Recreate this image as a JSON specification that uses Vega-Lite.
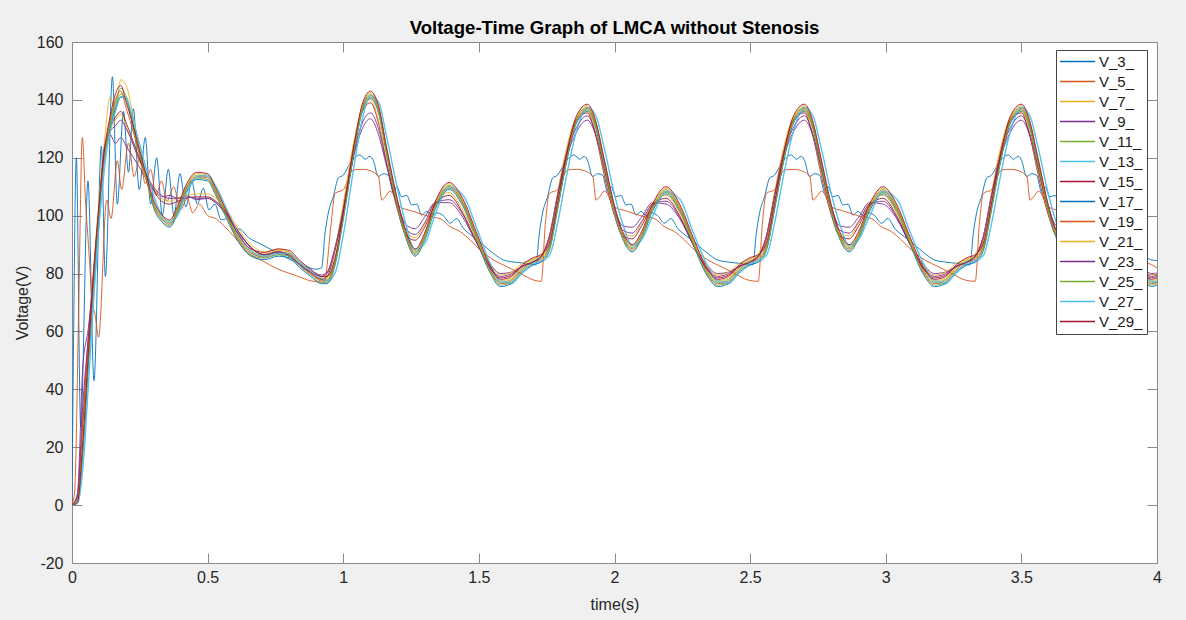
{
"$schema": "https://vega.github.io/schema/vega-lite/v6.json",
"width": 1085, "height": 521,
"autosize": {"type": "none"},
"padding": {"left": 72, "top": 42, "right": 29, "bottom": 57},
"background": "#f0f0f0",
"config": {"view": {"stroke": "#8a8a8a", "strokeWidth": 1, "fill": "#ffffff"}},
"title": {"text": "Voltage-Time Graph of LMCA without Stenosis", "font": "Liberation Sans", "fontSize": 18.6, "fontWeight": "bold", "color": "#000000", "offset": -4, "anchor": "middle"},
"data": {"values": [
{"t":0,"V_3_":0,"V_5_":0,"V_7_":0,"V_9_":0,"V_11_":0,"V_13_":0,"V_15_":0,"V_17_":0,"V_19_":0,"V_21_":0,"V_23_":0,"V_25_":0,"V_27_":0,"V_29_":0},
{"t":0.02,"V_7_":2,"V_9_":4,"V_11_":1,"V_13_":0.5,"V_15_":3,"V_17_":1,"V_19_":3,"V_21_":2,"V_23_":3,"V_25_":1,"V_27_":0.5,"V_29_":1},
{"t":0.04,"V_7_":25,"V_9_":48,"V_11_":20,"V_13_":12,"V_15_":28,"V_17_":18,"V_19_":30,"V_21_":24,"V_23_":35,"V_25_":20,"V_27_":14,"V_29_":22},
{"t":0.06,"V_7_":55,"V_9_":61,"V_11_":50,"V_13_":40,"V_15_":55,"V_17_":48,"V_19_":58,"V_21_":52,"V_23_":58,"V_25_":50,"V_27_":42,"V_29_":52},
{"t":0.08,"V_7_":82,"V_9_":79,"V_11_":78,"V_13_":70,"V_15_":80,"V_17_":76,"V_19_":82,"V_21_":78,"V_23_":80,"V_25_":78,"V_27_":72,"V_29_":80},
{"t":0.1,"V_7_":106,"V_9_":103,"V_11_":102,"V_13_":96,"V_15_":103,"V_17_":101,"V_19_":104,"V_21_":102,"V_23_":102,"V_25_":102,"V_27_":97,"V_29_":104},
{"t":0.12,"V_7_":126,"V_9_":124,"V_11_":121,"V_13_":116,"V_15_":121,"V_17_":120,"V_19_":122,"V_21_":120,"V_23_":122,"V_25_":121,"V_27_":117,"V_29_":123},
{"t":0.14,"V_7_":141,"V_9_":128,"V_11_":132,"V_13_":129,"V_15_":130,"V_17_":130,"V_19_":133,"V_21_":129,"V_23_":129,"V_25_":131,"V_27_":129,"V_29_":134},
{"t":0.16,"V_7_":136,"V_9_":125,"V_11_":139,"V_13_":136,"V_15_":134,"V_17_":137,"V_19_":140,"V_21_":133,"V_23_":131,"V_25_":138,"V_27_":136,"V_29_":142},
{"t":0.18,"V_7_":147,"V_9_":127,"V_11_":144,"V_13_":141,"V_15_":136,"V_17_":141,"V_19_":143,"V_21_":135,"V_23_":133,"V_25_":142,"V_27_":141,"V_29_":145},
{"t":0.2,"V_7_":145,"V_9_":124,"V_11_":141,"V_13_":141,"V_15_":132,"V_17_":140,"V_19_":137,"V_21_":131,"V_23_":130,"V_25_":140,"V_27_":140,"V_29_":139},
{"t":0.22,"V_7_":137,"V_9_":121,"V_11_":134,"V_13_":135,"V_15_":127,"V_17_":133,"V_19_":131,"V_21_":126,"V_23_":126,"V_25_":133,"V_27_":135,"V_29_":133},
{"t":0.24,"V_7_":127,"V_9_":118,"V_11_":125,"V_13_":128,"V_15_":122,"V_17_":125,"V_19_":124,"V_21_":121,"V_23_":121,"V_25_":125,"V_27_":128,"V_29_":126},
{"t":0.26,"V_7_":119,"V_9_":115,"V_11_":118,"V_13_":121,"V_15_":117,"V_17_":118,"V_19_":117,"V_21_":116,"V_23_":117,"V_25_":118,"V_27_":121,"V_29_":119},
{"t":0.28,"V_7_":111,"V_9_":111.5,"V_11_":111,"V_13_":114,"V_15_":113,"V_17_":111,"V_19_":110,"V_21_":112,"V_23_":113,"V_25_":111,"V_27_":114,"V_29_":112},
{"t":0.3,"V_7_":105,"V_9_":109,"V_11_":104.5,"V_13_":107,"V_15_":109,"V_17_":103,"V_19_":104,"V_21_":110,"V_23_":110,"V_25_":103.5,"V_27_":107.5,"V_29_":105.5},
{"t":0.33,"V_7_":100,"V_9_":106.5,"V_11_":99.5,"V_13_":100,"V_15_":105,"V_17_":98,"V_19_":99,"V_21_":106,"V_23_":107,"V_25_":98.5,"V_27_":100.5,"V_29_":100.5},
{"t":0.36,"V_7_":98,"V_9_":107,"V_11_":97.5,"V_13_":97.5,"V_15_":104,"V_17_":96,"V_19_":97,"V_21_":105,"V_23_":106,"V_25_":96.5,"V_27_":98,"V_29_":98.5},
{"t":0.39,"V_7_":103,"V_9_":106,"V_11_":102.5,"V_13_":100,"V_15_":105,"V_17_":101,"V_19_":102,"V_21_":106,"V_23_":106,"V_25_":101.5,"V_27_":100.5,"V_29_":103.5},
{"t":0.42,"V_7_":110,"V_9_":107,"V_11_":109.5,"V_13_":107,"V_15_":106,"V_17_":108,"V_19_":109,"V_21_":107,"V_23_":106.5,"V_25_":108.5,"V_27_":107.5,"V_29_":110.5},
{"t":0.46,"V_7_":114.5,"V_9_":105.5,"V_11_":114,"V_13_":113,"V_15_":106.5,"V_17_":112.5,"V_19_":113.5,"V_21_":107.5,"V_23_":106,"V_25_":113,"V_27_":113.5,"V_29_":115},
{"t":0.5,"V_7_":114,"V_9_":106,"V_11_":113.5,"V_13_":113.5,"V_15_":106.5,"V_17_":112,"V_19_":113,"V_21_":107.5,"V_23_":106,"V_25_":112.5,"V_27_":114,"V_29_":114.5},
{"t":0.53,"V_7_":109,"V_9_":104.5,"V_11_":108.5,"V_13_":110,"V_15_":105,"V_17_":107,"V_19_":108,"V_21_":106,"V_23_":104.5,"V_25_":107.5,"V_27_":110.5,"V_29_":109.5},
{"t":0.57,"V_7_":101,"V_9_":100,"V_11_":100.5,"V_13_":102,"V_15_":101,"V_17_":99,"V_19_":100,"V_21_":102,"V_23_":100.5,"V_25_":99.5,"V_27_":102.5,"V_29_":101.5},
{"t":0.61,"V_7_":93.5,"V_9_":94.5,"V_11_":93,"V_13_":94,"V_15_":95,"V_17_":91.5,"V_19_":92.5,"V_21_":96,"V_23_":95,"V_25_":92,"V_27_":94.5,"V_29_":94},
{"t":0.66,"V_7_":88,"V_9_":89,"V_11_":87.5,"V_13_":87.5,"V_15_":89,"V_17_":86,"V_19_":87,"V_21_":90,"V_23_":89,"V_25_":86.5,"V_27_":88,"V_29_":88.5},
{"t":0.71,"V_7_":86.8,"V_9_":86.5,"V_11_":86.3,"V_13_":85.5,"V_15_":86.5,"V_17_":84.8,"V_19_":85.8,"V_21_":87.5,"V_23_":86.5,"V_25_":85.3,"V_27_":86,"V_29_":87.3},
{"t":0.76,"V_7_":88,"V_9_":87.5,"V_11_":87.5,"V_13_":86.5,"V_15_":87.5,"V_17_":86,"V_19_":87,"V_21_":88.5,"V_23_":87.5,"V_25_":86.5,"V_27_":87,"V_29_":88.5},
{"t":0.8,"V_7_":87.5,"V_9_":86,"V_11_":87,"V_13_":86.5,"V_15_":86.5,"V_17_":85.5,"V_19_":86.5,"V_21_":87.5,"V_23_":86,"V_25_":86,"V_27_":87,"V_29_":88},
{"t":0.84,"V_7_":84,"V_9_":83,"V_11_":83.5,"V_13_":83.5,"V_15_":83,"V_17_":82,"V_19_":83,"V_21_":84,"V_23_":83,"V_25_":82.5,"V_27_":84,"V_29_":84.5},
{"t":0.88,"V_7_":81,"V_9_":81,"V_11_":80.5,"V_13_":80.5,"V_15_":80,"V_17_":79,"V_19_":80,"V_21_":81,"V_23_":80.5,"V_25_":79.5,"V_27_":81,"V_29_":81.5},
{"t":0.92,"V_7_":78.5,"V_9_":79.5,"V_11_":78,"V_13_":78,"V_15_":78,"V_17_":76.5,"V_19_":77.5,"V_21_":79,"V_23_":79,"V_25_":77,"V_27_":78.5,"V_29_":79},
{"t":0.94,"V_7_":78.5,"V_9_":80.5,"V_11_":78,"V_13_":77,"V_15_":79,"V_17_":76.5,"V_19_":77.5,"V_21_":80,"V_23_":80,"V_25_":77,"V_27_":77.5,"V_29_":79},
{"t":0.97,"V_7_":85,"V_9_":89,"V_11_":84.5,"V_13_":80,"V_15_":88,"V_17_":83,"V_19_":84,"V_21_":89,"V_23_":89,"V_25_":83.5,"V_27_":80.5,"V_29_":85.5},
{"t":1.0,"V_7_":100.6,"V_9_":101,"V_11_":100.1,"V_13_":93,"V_15_":103,"V_17_":98.6,"V_19_":99.6,"V_21_":104,"V_23_":102,"V_25_":99.1,"V_27_":93.5,"V_29_":101.1},
{"t":1.04,"V_7_":124,"V_9_":121,"V_11_":123.5,"V_13_":117,"V_15_":125,"V_17_":122,"V_19_":123,"V_21_":126,"V_23_":122,"V_25_":122.5,"V_27_":117.5,"V_29_":124.5},
{"t":1.07,"V_7_":138,"V_9_":130,"V_11_":137.5,"V_13_":133,"V_15_":136,"V_17_":136,"V_19_":137,"V_21_":137,"V_23_":132,"V_25_":136.5,"V_27_":133.5,"V_29_":138.5},
{"t":1.1,"V_7_":142.5,"V_9_":133.5,"V_11_":142,"V_13_":141,"V_15_":139,"V_17_":140.5,"V_19_":141.5,"V_21_":140,"V_23_":135.5,"V_25_":141,"V_27_":141.5,"V_29_":143},
{"t":1.13,"V_7_":137.5,"V_9_":128,"V_11_":137,"V_13_":139,"V_15_":132,"V_17_":135.5,"V_19_":136.5,"V_21_":133,"V_23_":130,"V_25_":136,"V_27_":139.5,"V_29_":138},
{"t":1.16,"V_7_":123,"V_9_":117,"V_11_":122.5,"V_13_":127,"V_15_":118,"V_17_":121,"V_19_":122,"V_21_":119,"V_23_":118,"V_25_":121.5,"V_27_":127.5,"V_29_":123.5},
{"t":1.2,"V_7_":105,"V_9_":104,"V_11_":104.5,"V_13_":109,"V_15_":102,"V_17_":103,"V_19_":104,"V_21_":103,"V_23_":103,"V_25_":103.5,"V_27_":109.5,"V_29_":105.5},
{"t":1.23,"V_7_":94.5,"V_9_":97,"V_11_":94,"V_13_":97,"V_15_":93.5,"V_17_":92.5,"V_19_":93.5,"V_21_":94.5,"V_23_":95.5,"V_25_":93,"V_27_":97.5,"V_29_":95},
{"t":1.265,"V_7_":88,"V_9_":95.5,"V_11_":87.5,"V_13_":88,"V_15_":91.5,"V_17_":86,"V_19_":87,"V_21_":92.5,"V_23_":93.5,"V_25_":86.5,"V_27_":88.5,"V_29_":88.5},
{"t":1.3,"V_7_":93.5,"V_9_":99.5,"V_11_":93,"V_13_":90,"V_15_":96,"V_17_":91.5,"V_19_":92.5,"V_21_":97,"V_23_":97.5,"V_25_":92,"V_27_":90.5,"V_29_":94},
{"t":1.34,"V_7_":104.5,"V_9_":104.5,"V_11_":104,"V_13_":100.5,"V_15_":104,"V_17_":102.5,"V_19_":103.5,"V_21_":105,"V_23_":104.5,"V_25_":103,"V_27_":101,"V_29_":105},
{"t":1.39,"V_7_":111,"V_9_":104.5,"V_11_":110.5,"V_13_":109.5,"V_15_":107,"V_17_":109,"V_19_":110,"V_21_":108,"V_23_":105.5,"V_25_":109.5,"V_27_":110,"V_29_":111.5},
{"t":1.44,"V_7_":105.5,"V_9_":99.5,"V_11_":105,"V_13_":107,"V_15_":101,"V_17_":103.5,"V_19_":104.5,"V_21_":102,"V_23_":100.5,"V_25_":104,"V_27_":107.5,"V_29_":106},
{"t":1.49,"V_7_":94,"V_9_":91,"V_11_":93.5,"V_13_":96,"V_15_":91,"V_17_":92,"V_19_":93,"V_21_":92,"V_23_":91,"V_25_":92.5,"V_27_":96.5,"V_29_":94.5},
{"t":1.54,"V_7_":82.5,"V_9_":83.5,"V_11_":82,"V_13_":83.5,"V_15_":82,"V_17_":80.5,"V_19_":81.5,"V_21_":83,"V_23_":82.5,"V_25_":81,"V_27_":84,"V_29_":83},
{"t":1.58,"V_7_":77.5,"V_9_":80,"V_11_":77,"V_13_":77,"V_15_":78.5,"V_17_":75.5,"V_19_":76.5,"V_21_":79.5,"V_23_":79,"V_25_":76,"V_27_":77.5,"V_29_":78},
{"t":1.62,"V_7_":78.5,"V_9_":80.5,"V_11_":78,"V_13_":76.5,"V_15_":79.5,"V_17_":76.5,"V_19_":77.5,"V_21_":80.5,"V_23_":80,"V_25_":77,"V_27_":77,"V_29_":79},
{"t":1.66,"V_7_":82.5,"V_9_":82.5,"V_11_":82,"V_13_":80,"V_15_":82.5,"V_17_":80.5,"V_19_":81.5,"V_21_":83.5,"V_23_":82.5,"V_25_":81,"V_27_":80.5,"V_29_":83},
{"t":1.7,"V_7_":85,"V_9_":84,"V_11_":84.5,"V_13_":83,"V_15_":84,"V_17_":83,"V_19_":84,"V_21_":85,"V_23_":84,"V_25_":83.5,"V_27_":83.5,"V_29_":85.5},
{"t":1.73,"V_7_":86,"V_9_":86,"V_11_":85.5,"V_13_":84,"V_15_":86,"V_17_":84,"V_19_":85,"V_21_":87,"V_23_":86,"V_25_":84.5,"V_27_":84.5,"V_29_":86.5},
{"t":1.76,"V_7_":90,"V_9_":93,"V_11_":89.5,"V_13_":86,"V_15_":92,"V_17_":88,"V_19_":89,"V_21_":93,"V_23_":93,"V_25_":88.5,"V_27_":86.5,"V_29_":90.5},
{"t":1.79,"V_7_":104,"V_9_":107,"V_11_":103.5,"V_13_":97,"V_15_":107,"V_17_":102,"V_19_":103,"V_21_":108,"V_23_":107,"V_25_":102.5,"V_27_":97.5,"V_29_":104.5},
{"t":1.82,"V_7_":119,"V_9_":119,"V_11_":118.5,"V_13_":112,"V_15_":121,"V_17_":117,"V_19_":118,"V_21_":122,"V_23_":120,"V_25_":117.5,"V_27_":112.5,"V_29_":119.5},
{"t":1.86,"V_7_":134,"V_9_":129,"V_11_":133.5,"V_13_":129,"V_15_":133,"V_17_":132,"V_19_":133,"V_21_":134,"V_23_":130.5,"V_25_":132.5,"V_27_":129.5,"V_29_":134.5},
{"t":1.9,"V_7_":138,"V_9_":133,"V_11_":137.5,"V_13_":137,"V_15_":135.5,"V_17_":136,"V_19_":137,"V_21_":136.5,"V_23_":134.5,"V_25_":136.5,"V_27_":137.5,"V_29_":138.5},
{"t":1.93,"V_7_":132.5,"V_9_":128,"V_11_":132,"V_13_":134.5,"V_15_":128,"V_17_":130.5,"V_19_":131.5,"V_21_":129,"V_23_":128.5,"V_25_":131,"V_27_":135,"V_29_":133},
{"t":1.96,"V_7_":120,"V_9_":117,"V_11_":119.5,"V_13_":124,"V_15_":115,"V_17_":118,"V_19_":119,"V_21_":116,"V_23_":117,"V_25_":118.5,"V_27_":124.5,"V_29_":120.5},
{"t":2.0,"V_7_":103,"V_9_":102.5,"V_11_":102.5,"V_13_":107,"V_15_":100,"V_17_":101,"V_19_":102,"V_21_":101,"V_23_":101.5,"V_25_":101.5,"V_27_":107.5,"V_29_":103.5},
{"t":2.03,"V_7_":94,"V_9_":96.5,"V_11_":93.5,"V_13_":97,"V_15_":93,"V_17_":92,"V_19_":93,"V_21_":94,"V_23_":95,"V_25_":92.5,"V_27_":97.5,"V_29_":94.5},
{"t":2.065,"V_7_":89.5,"V_9_":96,"V_11_":89,"V_13_":89.5,"V_15_":92,"V_17_":87.5,"V_19_":88.5,"V_21_":93,"V_23_":94,"V_25_":88,"V_27_":90,"V_29_":90},
{"t":2.1,"V_7_":94,"V_9_":99.5,"V_11_":93.5,"V_13_":91.5,"V_15_":96.5,"V_17_":92,"V_19_":93,"V_21_":97.5,"V_23_":98,"V_25_":92.5,"V_27_":92,"V_29_":94.5},
{"t":2.14,"V_7_":103.5,"V_9_":104.5,"V_11_":103,"V_13_":99.5,"V_15_":103.5,"V_17_":101.5,"V_19_":102.5,"V_21_":104.5,"V_23_":104,"V_25_":102,"V_27_":100,"V_29_":104},
{"t":2.19,"V_7_":109.5,"V_9_":104,"V_11_":109,"V_13_":108,"V_15_":106,"V_17_":107.5,"V_19_":108.5,"V_21_":107,"V_23_":105,"V_25_":108,"V_27_":108.5,"V_29_":110},
{"t":2.24,"V_7_":103.5,"V_9_":99,"V_11_":103,"V_13_":105.5,"V_15_":100,"V_17_":101.5,"V_19_":102.5,"V_21_":101,"V_23_":99.5,"V_25_":102,"V_27_":106,"V_29_":104},
{"t":2.29,"V_7_":92,"V_9_":90,"V_11_":91.5,"V_13_":94,"V_15_":90,"V_17_":90,"V_19_":91,"V_21_":91,"V_23_":90,"V_25_":90.5,"V_27_":94.5,"V_29_":92.5},
{"t":2.34,"V_7_":81.5,"V_9_":83,"V_11_":81,"V_13_":83,"V_15_":81.5,"V_17_":79.5,"V_19_":80.5,"V_21_":82.5,"V_23_":82,"V_25_":80,"V_27_":83.5,"V_29_":82},
{"t":2.38,"V_7_":77.5,"V_9_":80,"V_11_":77,"V_13_":77,"V_15_":78.5,"V_17_":75.5,"V_19_":76.5,"V_21_":79.5,"V_23_":79,"V_25_":76,"V_27_":77.5,"V_29_":78},
{"t":2.42,"V_7_":78.5,"V_9_":80.5,"V_11_":78,"V_13_":76.5,"V_15_":79.5,"V_17_":76.5,"V_19_":77.5,"V_21_":80.5,"V_23_":80,"V_25_":77,"V_27_":77,"V_29_":79},
{"t":2.46,"V_7_":82.5,"V_9_":82.5,"V_11_":82,"V_13_":80,"V_15_":82.5,"V_17_":80.5,"V_19_":81.5,"V_21_":83.5,"V_23_":82.5,"V_25_":81,"V_27_":80.5,"V_29_":83},
{"t":2.5,"V_7_":85,"V_9_":84,"V_11_":84.5,"V_13_":83,"V_15_":84,"V_17_":83,"V_19_":84,"V_21_":85,"V_23_":84,"V_25_":83.5,"V_27_":83.5,"V_29_":85.5},
{"t":2.53,"V_7_":86,"V_9_":86,"V_11_":85.5,"V_13_":84,"V_15_":86,"V_17_":84,"V_19_":85,"V_21_":87,"V_23_":86,"V_25_":84.5,"V_27_":84.5,"V_29_":86.5},
{"t":2.56,"V_7_":90,"V_9_":93,"V_11_":89.5,"V_13_":86,"V_15_":92,"V_17_":88,"V_19_":89,"V_21_":93,"V_23_":93,"V_25_":88.5,"V_27_":86.5,"V_29_":90.5},
{"t":2.59,"V_7_":104,"V_9_":107,"V_11_":103.5,"V_13_":97,"V_15_":107,"V_17_":102,"V_19_":103,"V_21_":108,"V_23_":107,"V_25_":102.5,"V_27_":97.5,"V_29_":104.5},
{"t":2.62,"V_7_":119,"V_9_":119,"V_11_":118.5,"V_13_":112,"V_15_":121,"V_17_":117,"V_19_":118,"V_21_":122,"V_23_":120,"V_25_":117.5,"V_27_":112.5,"V_29_":119.5},
{"t":2.66,"V_7_":134,"V_9_":129,"V_11_":133.5,"V_13_":129,"V_15_":133,"V_17_":132,"V_19_":133,"V_21_":134,"V_23_":130.5,"V_25_":132.5,"V_27_":129.5,"V_29_":134.5},
{"t":2.7,"V_7_":138,"V_9_":133,"V_11_":137.5,"V_13_":137,"V_15_":135.5,"V_17_":136,"V_19_":137,"V_21_":136.5,"V_23_":134.5,"V_25_":136.5,"V_27_":137.5,"V_29_":138.5},
{"t":2.73,"V_7_":132.5,"V_9_":128,"V_11_":132,"V_13_":134.5,"V_15_":128,"V_17_":130.5,"V_19_":131.5,"V_21_":129,"V_23_":128.5,"V_25_":131,"V_27_":135,"V_29_":133},
{"t":2.76,"V_7_":120,"V_9_":117,"V_11_":119.5,"V_13_":124,"V_15_":115,"V_17_":118,"V_19_":119,"V_21_":116,"V_23_":117,"V_25_":118.5,"V_27_":124.5,"V_29_":120.5},
{"t":2.8,"V_7_":103,"V_9_":102.5,"V_11_":102.5,"V_13_":107,"V_15_":100,"V_17_":101,"V_19_":102,"V_21_":101,"V_23_":101.5,"V_25_":101.5,"V_27_":107.5,"V_29_":103.5},
{"t":2.83,"V_7_":94,"V_9_":96.5,"V_11_":93.5,"V_13_":97,"V_15_":93,"V_17_":92,"V_19_":93,"V_21_":94,"V_23_":95,"V_25_":92.5,"V_27_":97.5,"V_29_":94.5},
{"t":2.865,"V_7_":89.5,"V_9_":96,"V_11_":89,"V_13_":89.5,"V_15_":92,"V_17_":87.5,"V_19_":88.5,"V_21_":93,"V_23_":94,"V_25_":88,"V_27_":90,"V_29_":90},
{"t":2.9,"V_7_":94,"V_9_":99.5,"V_11_":93.5,"V_13_":91.5,"V_15_":96.5,"V_17_":92,"V_19_":93,"V_21_":97.5,"V_23_":98,"V_25_":92.5,"V_27_":92,"V_29_":94.5},
{"t":2.94,"V_7_":103.5,"V_9_":104.5,"V_11_":103,"V_13_":99.5,"V_15_":103.5,"V_17_":101.5,"V_19_":102.5,"V_21_":104.5,"V_23_":104,"V_25_":102,"V_27_":100,"V_29_":104},
{"t":2.99,"V_7_":109.5,"V_9_":104,"V_11_":109,"V_13_":108,"V_15_":106,"V_17_":107.5,"V_19_":108.5,"V_21_":107,"V_23_":105,"V_25_":108,"V_27_":108.5,"V_29_":110},
{"t":3.04,"V_7_":103.5,"V_9_":99,"V_11_":103,"V_13_":105.5,"V_15_":100,"V_17_":101.5,"V_19_":102.5,"V_21_":101,"V_23_":99.5,"V_25_":102,"V_27_":106,"V_29_":104},
{"t":3.09,"V_7_":92,"V_9_":90,"V_11_":91.5,"V_13_":94,"V_15_":90,"V_17_":90,"V_19_":91,"V_21_":91,"V_23_":90,"V_25_":90.5,"V_27_":94.5,"V_29_":92.5},
{"t":3.14,"V_7_":81.5,"V_9_":83,"V_11_":81,"V_13_":83,"V_15_":81.5,"V_17_":79.5,"V_19_":80.5,"V_21_":82.5,"V_23_":82,"V_25_":80,"V_27_":83.5,"V_29_":82},
{"t":3.18,"V_7_":77.5,"V_9_":80,"V_11_":77,"V_13_":77,"V_15_":78.5,"V_17_":75.5,"V_19_":76.5,"V_21_":79.5,"V_23_":79,"V_25_":76,"V_27_":77.5,"V_29_":78},
{"t":3.22,"V_7_":78.5,"V_9_":80.5,"V_11_":78,"V_13_":76.5,"V_15_":79.5,"V_17_":76.5,"V_19_":77.5,"V_21_":80.5,"V_23_":80,"V_25_":77,"V_27_":77,"V_29_":79},
{"t":3.26,"V_7_":82.5,"V_9_":82.5,"V_11_":82,"V_13_":80,"V_15_":82.5,"V_17_":80.5,"V_19_":81.5,"V_21_":83.5,"V_23_":82.5,"V_25_":81,"V_27_":80.5,"V_29_":83},
{"t":3.3,"V_7_":85,"V_9_":84,"V_11_":84.5,"V_13_":83,"V_15_":84,"V_17_":83,"V_19_":84,"V_21_":85,"V_23_":84,"V_25_":83.5,"V_27_":83.5,"V_29_":85.5},
{"t":3.33,"V_7_":86,"V_9_":86,"V_11_":85.5,"V_13_":84,"V_15_":86,"V_17_":84,"V_19_":85,"V_21_":87,"V_23_":86,"V_25_":84.5,"V_27_":84.5,"V_29_":86.5},
{"t":3.36,"V_7_":90,"V_9_":93,"V_11_":89.5,"V_13_":86,"V_15_":92,"V_17_":88,"V_19_":89,"V_21_":93,"V_23_":93,"V_25_":88.5,"V_27_":86.5,"V_29_":90.5},
{"t":3.39,"V_7_":104,"V_9_":107,"V_11_":103.5,"V_13_":97,"V_15_":107,"V_17_":102,"V_19_":103,"V_21_":108,"V_23_":107,"V_25_":102.5,"V_27_":97.5,"V_29_":104.5},
{"t":3.42,"V_7_":119,"V_9_":119,"V_11_":118.5,"V_13_":112,"V_15_":121,"V_17_":117,"V_19_":118,"V_21_":122,"V_23_":120,"V_25_":117.5,"V_27_":112.5,"V_29_":119.5},
{"t":3.46,"V_7_":134,"V_9_":129,"V_11_":133.5,"V_13_":129,"V_15_":133,"V_17_":132,"V_19_":133,"V_21_":134,"V_23_":130.5,"V_25_":132.5,"V_27_":129.5,"V_29_":134.5},
{"t":3.5,"V_7_":138,"V_9_":133,"V_11_":137.5,"V_13_":137,"V_15_":135.5,"V_17_":136,"V_19_":137,"V_21_":136.5,"V_23_":134.5,"V_25_":136.5,"V_27_":137.5,"V_29_":138.5},
{"t":3.53,"V_7_":132.5,"V_9_":128,"V_11_":132,"V_13_":134.5,"V_15_":128,"V_17_":130.5,"V_19_":131.5,"V_21_":129,"V_23_":128.5,"V_25_":131,"V_27_":135,"V_29_":133},
{"t":3.56,"V_7_":120,"V_9_":117,"V_11_":119.5,"V_13_":124,"V_15_":115,"V_17_":118,"V_19_":119,"V_21_":116,"V_23_":117,"V_25_":118.5,"V_27_":124.5,"V_29_":120.5},
{"t":3.6,"V_7_":103,"V_9_":102.5,"V_11_":102.5,"V_13_":107,"V_15_":100,"V_17_":101,"V_19_":102,"V_21_":101,"V_23_":101.5,"V_25_":101.5,"V_27_":107.5,"V_29_":103.5},
{"t":3.63,"V_7_":94,"V_9_":96.5,"V_11_":93.5,"V_13_":97,"V_15_":93,"V_17_":92,"V_19_":93,"V_21_":94,"V_23_":95,"V_25_":92.5,"V_27_":97.5,"V_29_":94.5},
{"t":3.665,"V_7_":89.5,"V_9_":96,"V_11_":89,"V_13_":89.5,"V_15_":92,"V_17_":87.5,"V_19_":88.5,"V_21_":93,"V_23_":94,"V_25_":88,"V_27_":90,"V_29_":90},
{"t":3.7,"V_7_":94,"V_9_":99.5,"V_11_":93.5,"V_13_":91.5,"V_15_":96.5,"V_17_":92,"V_19_":93,"V_21_":97.5,"V_23_":98,"V_25_":92.5,"V_27_":92,"V_29_":94.5},
{"t":3.74,"V_7_":103.5,"V_9_":104.5,"V_11_":103,"V_13_":99.5,"V_15_":103.5,"V_17_":101.5,"V_19_":102.5,"V_21_":104.5,"V_23_":104,"V_25_":102,"V_27_":100,"V_29_":104},
{"t":3.79,"V_7_":109.5,"V_9_":104,"V_11_":109,"V_13_":108,"V_15_":106,"V_17_":107.5,"V_19_":108.5,"V_21_":107,"V_23_":105,"V_25_":108,"V_27_":108.5,"V_29_":110},
{"t":3.84,"V_7_":103.5,"V_9_":99,"V_11_":103,"V_13_":105.5,"V_15_":100,"V_17_":101.5,"V_19_":102.5,"V_21_":101,"V_23_":99.5,"V_25_":102,"V_27_":106,"V_29_":104},
{"t":3.89,"V_7_":92,"V_9_":90,"V_11_":91.5,"V_13_":94,"V_15_":90,"V_17_":90,"V_19_":91,"V_21_":91,"V_23_":90,"V_25_":90.5,"V_27_":94.5,"V_29_":92.5},
{"t":3.94,"V_7_":81.5,"V_9_":83,"V_11_":81,"V_13_":83,"V_15_":81.5,"V_17_":79.5,"V_19_":80.5,"V_21_":82.5,"V_23_":82,"V_25_":80,"V_27_":83.5,"V_29_":82},
{"t":3.98,"V_7_":77.5,"V_9_":80,"V_11_":77,"V_13_":77,"V_15_":78.5,"V_17_":75.5,"V_19_":76.5,"V_21_":79.5,"V_23_":79,"V_25_":76,"V_27_":77.5,"V_29_":78},
{"t":4.0,"V_7_":78,"V_9_":80.2,"V_11_":77.5,"V_13_":76.8,"V_15_":79,"V_17_":76,"V_19_":77,"V_21_":80,"V_23_":79.5,"V_25_":76.5,"V_27_":77.2,"V_29_":78.5},
{"t":0.005,"V_3_":50},{"t":0.016,"V_3_":120},{"t":0.032,"V_3_":27},{"t":0.059,"V_3_":112},{"t":0.081,"V_3_":43},{"t":0.108,"V_3_":124},{"t":0.123,"V_3_":79},{"t":0.149,"V_3_":148},{"t":0.167,"V_3_":104},{"t":0.19,"V_3_":136},{"t":0.208,"V_3_":115},{"t":0.226,"V_3_":137},{"t":0.248,"V_3_":109},{"t":0.27,"V_3_":127},{"t":0.29,"V_3_":104},{"t":0.312,"V_3_":120},{"t":0.333,"V_3_":100},{"t":0.355,"V_3_":116},{"t":0.376,"V_3_":100},{"t":0.398,"V_3_":114.5},{"t":0.42,"V_3_":103},{"t":0.441,"V_3_":112},{"t":0.462,"V_3_":104},{"t":0.484,"V_3_":109.5},{"t":0.505,"V_3_":102},{"t":0.527,"V_3_":104},{"t":0.55,"V_3_":98.5},{"t":0.57,"V_3_":99},{"t":0.6,"V_3_":94.5},{"t":0.615,"V_3_":95.5},{"t":0.65,"V_3_":92.5},{"t":0.7,"V_3_":90},{"t":0.75,"V_3_":87.5},{"t":0.8,"V_3_":85},{"t":0.85,"V_3_":83},{"t":0.9,"V_3_":81.5},{"t":0.92,"V_3_":82},
{"t":0.933,"V_3_":94},{"t":0.945,"V_3_":101},{"t":0.963,"V_3_":106.5},{"t":0.982,"V_3_":113},{"t":1.0,"V_3_":114},{"t":1.025,"V_3_":118},{"t":1.062,"V_3_":121},{"t":1.08,"V_3_":119.5},{"t":1.099,"V_3_":120.5},{"t":1.111,"V_3_":119},{"t":1.129,"V_3_":113.5},{"t":1.148,"V_3_":114.5},{"t":1.166,"V_3_":114},{"t":1.185,"V_3_":108},{"t":1.197,"V_3_":110},{"t":1.215,"V_3_":106.5},{"t":1.234,"V_3_":107},{"t":1.252,"V_3_":103.7},{"t":1.271,"V_3_":104},{"t":1.289,"V_3_":100.2},{"t":1.308,"V_3_":101.5},{"t":1.326,"V_3_":100},{"t":1.345,"V_3_":101},{"t":1.369,"V_3_":100},{"t":1.394,"V_3_":97.4},{"t":1.418,"V_3_":99},{"t":1.443,"V_3_":95.6},{"t":1.479,"V_3_":92.7},{"t":1.516,"V_3_":89.9},{"t":1.553,"V_3_":87},{"t":1.59,"V_3_":84.7},{"t":1.627,"V_3_":84},{"t":1.676,"V_3_":83.5},{"t":1.71,"V_3_":83},
{"t":1.723,"V_3_":94},{"t":1.735,"V_3_":101},{"t":1.753,"V_3_":106.5},{"t":1.772,"V_3_":113},{"t":1.79,"V_3_":114},{"t":1.815,"V_3_":118},{"t":1.852,"V_3_":121},{"t":1.87,"V_3_":119.5},{"t":1.889,"V_3_":120.5},{"t":1.901,"V_3_":119},{"t":1.919,"V_3_":113.5},{"t":1.938,"V_3_":114.5},{"t":1.956,"V_3_":114},{"t":1.975,"V_3_":108},{"t":1.987,"V_3_":110},{"t":2.005,"V_3_":106.5},{"t":2.024,"V_3_":107},{"t":2.042,"V_3_":103.7},{"t":2.061,"V_3_":104},{"t":2.079,"V_3_":100.2},{"t":2.098,"V_3_":101.5},{"t":2.116,"V_3_":100},{"t":2.135,"V_3_":101},{"t":2.159,"V_3_":100},{"t":2.184,"V_3_":97.4},{"t":2.208,"V_3_":99},{"t":2.233,"V_3_":95.6},{"t":2.269,"V_3_":92.7},{"t":2.306,"V_3_":89.9},{"t":2.343,"V_3_":87},{"t":2.38,"V_3_":84.7},{"t":2.417,"V_3_":84},{"t":2.466,"V_3_":83.5},{"t":2.51,"V_3_":83},
{"t":2.523,"V_3_":94},{"t":2.535,"V_3_":101},{"t":2.553,"V_3_":106.5},{"t":2.572,"V_3_":113},{"t":2.59,"V_3_":114},{"t":2.615,"V_3_":118},{"t":2.652,"V_3_":121},{"t":2.67,"V_3_":119.5},{"t":2.689,"V_3_":120.5},{"t":2.701,"V_3_":119},{"t":2.719,"V_3_":113.5},{"t":2.738,"V_3_":114.5},{"t":2.756,"V_3_":114},{"t":2.775,"V_3_":108},{"t":2.787,"V_3_":110},{"t":2.805,"V_3_":106.5},{"t":2.824,"V_3_":107},{"t":2.842,"V_3_":103.7},{"t":2.861,"V_3_":104},{"t":2.879,"V_3_":100.2},{"t":2.898,"V_3_":101.5},{"t":2.916,"V_3_":100},{"t":2.935,"V_3_":101},{"t":2.959,"V_3_":100},{"t":2.984,"V_3_":97.4},{"t":3.008,"V_3_":99},{"t":3.033,"V_3_":95.6},{"t":3.069,"V_3_":92.7},{"t":3.106,"V_3_":89.9},{"t":3.143,"V_3_":87},{"t":3.18,"V_3_":84.7},{"t":3.217,"V_3_":84},{"t":3.266,"V_3_":83.5},{"t":3.31,"V_3_":83},
{"t":3.323,"V_3_":94},{"t":3.335,"V_3_":101},{"t":3.353,"V_3_":106.5},{"t":3.372,"V_3_":113},{"t":3.39,"V_3_":114},{"t":3.415,"V_3_":118},{"t":3.452,"V_3_":121},{"t":3.47,"V_3_":119.5},{"t":3.489,"V_3_":120.5},{"t":3.501,"V_3_":119},{"t":3.519,"V_3_":113.5},{"t":3.538,"V_3_":114.5},{"t":3.556,"V_3_":114},{"t":3.575,"V_3_":108},{"t":3.587,"V_3_":110},{"t":3.605,"V_3_":106.5},{"t":3.624,"V_3_":107},{"t":3.642,"V_3_":103.7},{"t":3.661,"V_3_":104},{"t":3.679,"V_3_":100.2},{"t":3.698,"V_3_":101.5},{"t":3.716,"V_3_":100},{"t":3.735,"V_3_":101},{"t":3.759,"V_3_":100},{"t":3.784,"V_3_":97.4},{"t":3.808,"V_3_":99},{"t":3.833,"V_3_":95.6},{"t":3.869,"V_3_":92.7},{"t":3.906,"V_3_":89.9},{"t":3.943,"V_3_":87},{"t":3.98,"V_3_":84.7},{"t":4.0,"V_3_":84.5},
{"t":0.01,"V_5_":5},{"t":0.025,"V_5_":70},{"t":0.038,"V_5_":127},{"t":0.05,"V_5_":105},{"t":0.062,"V_5_":88},{"t":0.075,"V_5_":70},{"t":0.085,"V_5_":66},{"t":0.098,"V_5_":58},{"t":0.128,"V_5_":105.4},{"t":0.144,"V_5_":99},{"t":0.167,"V_5_":119},{"t":0.183,"V_5_":109},{"t":0.208,"V_5_":125},{"t":0.229,"V_5_":113.5},{"t":0.25,"V_5_":120},{"t":0.27,"V_5_":111},{"t":0.29,"V_5_":116},{"t":0.31,"V_5_":107},{"t":0.33,"V_5_":112},{"t":0.35,"V_5_":105},{"t":0.375,"V_5_":110},{"t":0.4,"V_5_":102},{"t":0.425,"V_5_":106},{"t":0.445,"V_5_":101},{"t":0.47,"V_5_":104},{"t":0.5,"V_5_":100},{"t":0.53,"V_5_":99},{"t":0.56,"V_5_":96.5},{"t":0.6,"V_5_":92.5},{"t":0.65,"V_5_":87},{"t":0.7,"V_5_":84.5},{"t":0.76,"V_5_":81.5},{"t":0.82,"V_5_":79.5},{"t":0.88,"V_5_":77.5},{"t":0.93,"V_5_":77},
{"t":0.955,"V_5_":97},{"t":0.97,"V_5_":107.7},{"t":1.0,"V_5_":109},{"t":1.037,"V_5_":115.8},{"t":1.073,"V_5_":116},{"t":1.1,"V_5_":115.5},{"t":1.13,"V_5_":113.6},{"t":1.142,"V_5_":105.4},{"t":1.155,"V_5_":106.5},{"t":1.173,"V_5_":108.5},{"t":1.21,"V_5_":103},{"t":1.247,"V_5_":101.8},{"t":1.284,"V_5_":100.7},{"t":1.32,"V_5_":99.6},{"t":1.357,"V_5_":99},{"t":1.394,"V_5_":96.2},{"t":1.431,"V_5_":94.5},{"t":1.468,"V_5_":91.6},{"t":1.505,"V_5_":88.1},{"t":1.554,"V_5_":84.7},{"t":1.603,"V_5_":82.4},{"t":1.652,"V_5_":80.1},{"t":1.701,"V_5_":77.8},{"t":1.73,"V_5_":77.3},
{"t":1.745,"V_5_":97},{"t":1.76,"V_5_":107.7},{"t":1.79,"V_5_":109},{"t":1.827,"V_5_":115.8},{"t":1.863,"V_5_":116},{"t":1.89,"V_5_":115.5},{"t":1.92,"V_5_":113.6},{"t":1.932,"V_5_":105.4},{"t":1.945,"V_5_":106.5},{"t":1.963,"V_5_":108.5},{"t":2.0,"V_5_":103},{"t":2.037,"V_5_":101.8},{"t":2.074,"V_5_":100.7},{"t":2.11,"V_5_":99.6},{"t":2.147,"V_5_":99},{"t":2.184,"V_5_":96.2},{"t":2.221,"V_5_":94.5},{"t":2.258,"V_5_":91.6},{"t":2.295,"V_5_":88.1},{"t":2.344,"V_5_":84.7},{"t":2.393,"V_5_":82.4},{"t":2.442,"V_5_":80.1},{"t":2.491,"V_5_":77.8},{"t":2.53,"V_5_":77.3},
{"t":2.545,"V_5_":97},{"t":2.56,"V_5_":107.7},{"t":2.59,"V_5_":109},{"t":2.627,"V_5_":115.8},{"t":2.663,"V_5_":116},{"t":2.69,"V_5_":115.5},{"t":2.72,"V_5_":113.6},{"t":2.732,"V_5_":105.4},{"t":2.745,"V_5_":106.5},{"t":2.763,"V_5_":108.5},{"t":2.8,"V_5_":103},{"t":2.837,"V_5_":101.8},{"t":2.874,"V_5_":100.7},{"t":2.91,"V_5_":99.6},{"t":2.947,"V_5_":99},{"t":2.984,"V_5_":96.2},{"t":3.021,"V_5_":94.5},{"t":3.058,"V_5_":91.6},{"t":3.095,"V_5_":88.1},{"t":3.144,"V_5_":84.7},{"t":3.193,"V_5_":82.4},{"t":3.242,"V_5_":80.1},{"t":3.291,"V_5_":77.8},{"t":3.33,"V_5_":77.3},
{"t":3.345,"V_5_":97},{"t":3.36,"V_5_":107.7},{"t":3.39,"V_5_":109},{"t":3.427,"V_5_":115.8},{"t":3.463,"V_5_":116},{"t":3.49,"V_5_":115.5},{"t":3.52,"V_5_":113.6},{"t":3.532,"V_5_":105.4},{"t":3.545,"V_5_":106.5},{"t":3.563,"V_5_":108.5},{"t":3.6,"V_5_":103},{"t":3.637,"V_5_":101.8},{"t":3.674,"V_5_":100.7},{"t":3.71,"V_5_":99.6},{"t":3.747,"V_5_":99},{"t":3.784,"V_5_":96.2},{"t":3.821,"V_5_":94.5},{"t":3.858,"V_5_":91.6},{"t":3.895,"V_5_":88.1},{"t":3.944,"V_5_":84.7},{"t":3.993,"V_5_":82.4},{"t":4.0,"V_5_":82}
]},
"transform": [
{"fold": ["V_3_","V_5_","V_7_","V_9_","V_11_","V_13_","V_15_","V_17_","V_19_","V_21_","V_23_","V_25_","V_27_","V_29_"], "as": ["series","v"]},
{"filter": {"field": "v", "valid": true}}
],
"resolve": {"axis": {"x": "independent", "y": "independent"}},
"layer": [
{"mark": {"type": "line", "interpolate": "monotone", "strokeWidth": 1, "strokeOpacity": 0.9, "clip": true},
 "encoding": {
  "x": {"field": "t", "type": "quantitative", "scale": {"domain": [0,4], "nice": false, "zero": false},
        "axis": {"orient": "bottom", "values": [0,0.5,1,1.5,2,2.5,3,3.5,4], "format": "~g", "title": "time(s)", "titleFont": "Liberation Sans", "titleFontSize": 16, "titleFontWeight": "normal", "titleColor": "#262626", "titlePadding": 11, "labelFont": "Liberation Sans", "labelFontSize": 16, "labelColor": "#262626", "labelPadding": 16, "tickSize": -10, "tickColor": "#8a8a8a", "domain": false, "grid": false, "labelFlush": false, "labelOverlap": false}},
  "y": {"field": "v", "type": "quantitative", "scale": {"domain": [-20,160], "nice": false, "zero": false},
        "axis": {"orient": "left", "values": [-20,0,20,40,60,80,100,120,140,160], "labelExpr": "datum.value < 0 ? '-' + abs(datum.value) : datum.label", "title": "Voltage(V)", "titleFont": "Liberation Sans", "titleFontSize": 16, "titleFontWeight": "normal", "titleColor": "#262626", "titlePadding": 6, "labelFont": "Liberation Sans", "labelFontSize": 16, "labelColor": "#262626", "labelPadding": 19, "tickSize": -10, "tickColor": "#8a8a8a", "domain": false, "grid": false, "labelFlush": false, "labelOverlap": false}},
  "color": {"field": "series", "type": "nominal",
   "scale": {"domain": ["V_3_","V_5_","V_7_","V_9_","V_11_","V_13_","V_15_","V_17_","V_19_","V_21_","V_23_","V_25_","V_27_","V_29_"],
             "range": ["#0072BD","#D95319","#EDB120","#7E2F8E","#77AC30","#4DBEEE","#A2142F","#0072BD","#D95319","#EDB120","#7E2F8E","#77AC30","#4DBEEE","#A2142F"]},
   "legend": {"title": null, "orient": "none", "legendX": 984, "legendY": 8, "symbolType": "M-5,0H5", "symbolSize": 49, "symbolOffset": 10, "symbolStrokeWidth": 1.5, "labelFont": "Liberation Sans", "labelFontSize": 15, "labelColor": "#1a1a1a", "fillColor": "#ffffff", "strokeColor": "#444444", "padding": 4, "rowPadding": 4, "labelOffset": 14}}
 }},
{"mark": {"type": "point", "opacity": 0},
 "encoding": {
  "x": {"field": "t", "type": "quantitative", "axis": {"orient": "top", "values": [0,0.5,1,1.5,2,2.5,3,3.5,4], "labels": false, "title": null, "tickSize": -10, "tickColor": "#8a8a8a", "domain": false, "grid": false}},
  "y": {"field": "v", "type": "quantitative", "axis": {"orient": "right", "values": [-20,0,20,40,60,80,100,120,140,160], "labels": false, "title": null, "tickSize": -10, "tickColor": "#8a8a8a", "domain": false, "grid": false}}
 }}
]
}
